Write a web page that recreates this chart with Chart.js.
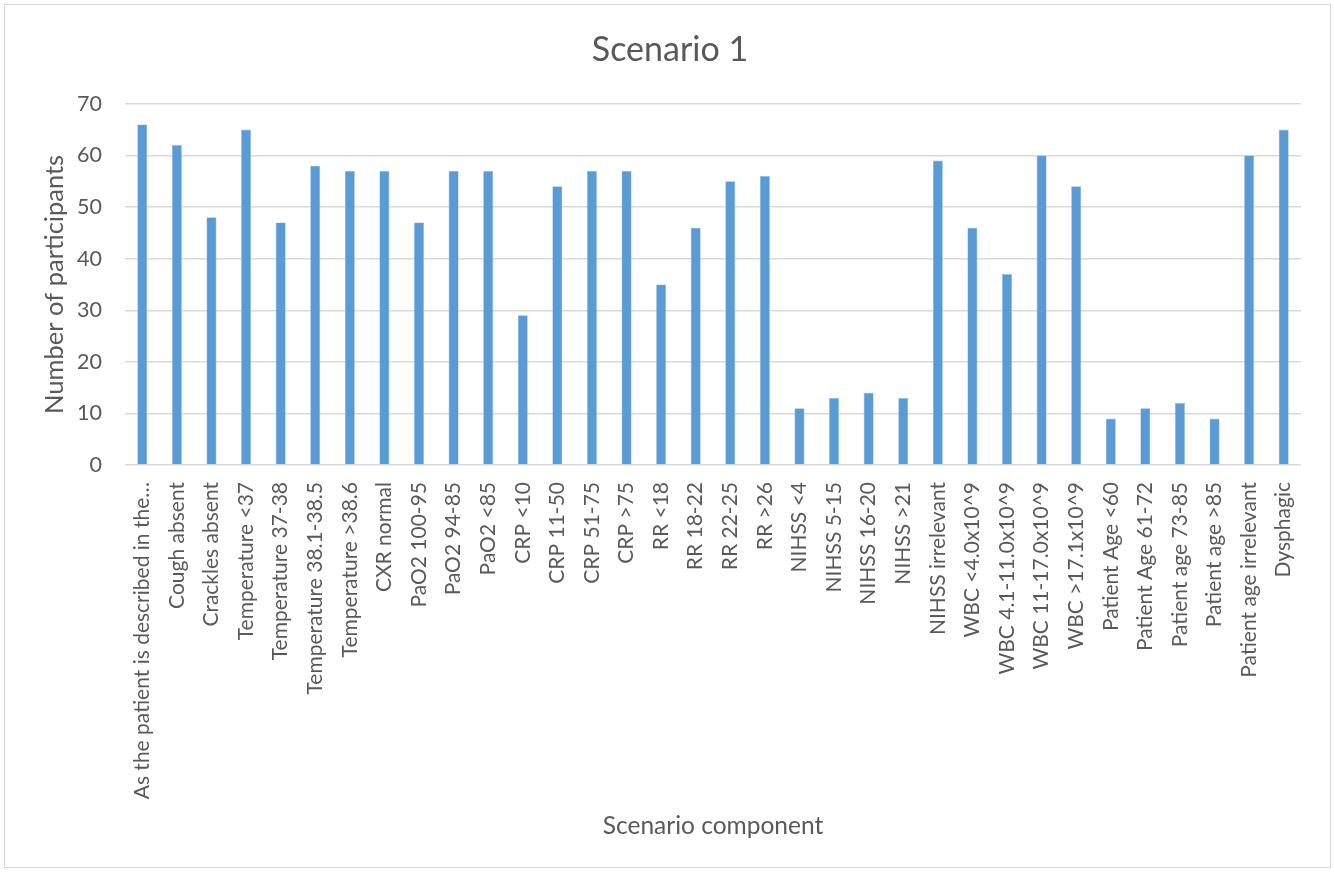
<!DOCTYPE html>
<html>
<head>
<meta charset="utf-8">
<title>Scenario 1</title>
<script src="https://cdn.jsdelivr.net/npm/chart.js@4/dist/chart.umd.min.js"></script>
<style>
  html, body { margin: 0; padding: 0; background: #ffffff; }
  #wrap { position: relative; width: 1334px; height: 872px; }
  #frame {
    position: absolute; left: 4px; top: 4px; width: 1325px; height: 862px;
    border: 1.5px solid #d9d9d9; pointer-events: none;
  }
  canvas { display: block; }
</style>
</head>
<body>
<div id="wrap">
  <canvas id="chart" width="1334" height="872"></canvas>
  <div id="frame"></div>
</div>
<script>
// Scenario components (x categories)
const categories = [
  "As the patient is described in the\u2026",
  "Cough absent",
  "Crackles absent",
  "Temperature <37",
  "Temperature 37-38",
  "Temperature 38.1-38.5",
  "Temperature >38.6",
  "CXR normal",
  "PaO2 100-95",
  "PaO2 94-85",
  "PaO2 <85",
  "CRP <10",
  "CRP 11-50",
  "CRP 51-75",
  "CRP >75",
  "RR <18",
  "RR 18-22",
  "RR 22-25",
  "RR >26",
  "NIHSS <4",
  "NIHSS 5-15",
  "NIHSS 16-20",
  "NIHSS >21",
  "NIHSS irrelevant",
  "WBC <4.0x10^9",
  "WBC 4.1-11.0x10^9",
  "WBC 11-17.0x10^9",
  "WBC >17.1x10^9",
  "Patient Age <60",
  "Patient Age 61-72",
  "Patient age 73-85",
  "Patient age >85",
  "Patient age irrelevant",
  "Dysphagic"
];

// Number of participants per component
const participants = [
  66, 62, 48, 65, 47, 58, 57, 57, 47, 57, 57,
  29, 54, 57, 57, 35, 46, 55, 56,
  11, 13, 14, 13, 59,
  46, 37, 60, 54,
  9, 11, 12, 9, 60, 65
];

// Value axis ticks
const yTicks = [0, 10, 20, 30, 40, 50, 60, 70];

const textGrey = "#595959";
const gridGrey = "#d9d9d9";
const fontFamily = "Lato, 'Open Sans', sans-serif";

new Chart(document.getElementById("chart"), {
  type: "bar",
  data: {
    labels: categories,
    datasets: [{
      label: "Participants",
      data: participants,
      backgroundColor: "#5b9bd5",
      borderColor: "#8fbbe3",
      borderWidth: { left: 0.6, right: 0.6, top: 0.6, bottom: 0 },
      borderSkipped: false,
      categoryPercentage: 1.0,
      barPercentage: 0.29
    }]
  },
  options: {
    responsive: false,
    animation: false,
    layout: { padding: { left: 39, right: 33, top: 0, bottom: 31 } },
    plugins: {
      legend: { display: false },
      tooltip: { enabled: false },
      title: {
        display: true,
        text: "Scenario 1",
        color: textGrey,
        font: { family: fontFamily, size: 34, weight: "normal" },
        padding: { top: 30, bottom: 33 }
      }
    },
    scales: {
      x: {
        grid: { display: false },
        border: { display: false },
        ticks: {
          color: textGrey,
          font: { family: fontFamily, size: 21 },
          minRotation: 90,
          maxRotation: 90,
          autoSkip: false,
          padding: 9
        },
        title: {
          display: true,
          text: "Scenario component",
          color: textGrey,
          font: { family: fontFamily, size: 24.5 },
          padding: { top: 0, bottom: 0 }
        },
        afterFit: (scale) => { scale.height = 872 - 31 - 465; }
      },
      y: {
        min: 0,
        max: 70,
        afterBuildTicks: (scale) => { scale.ticks = yTicks.map(v => ({ value: v })); },
        grid: { color: gridGrey, lineWidth: 1.4, drawTicks: false },
        border: { display: false },
        ticks: {
          color: textGrey,
          font: { family: fontFamily, size: 21.5 },
          padding: 23
        },
        title: {
          display: true,
          text: "Number of participants",
          color: textGrey,
          font: { family: fontFamily, size: 25.5 },
          padding: { top: 0, bottom: 2 }
        },
        afterFit: (scale) => { scale.width = 125 - 39; }
      }
    }
  }
});
</script>
</body>
</html>
